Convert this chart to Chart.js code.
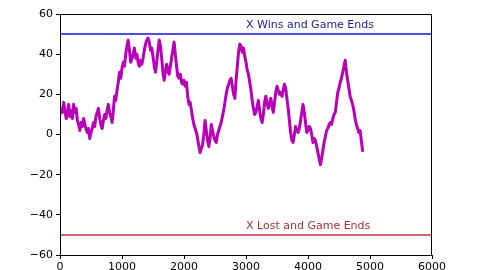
<!DOCTYPE html>
<html>
<head>
<meta charset="utf-8">
<script src="https://cdn.jsdelivr.net/npm/chart.js@4"></script>
<style>
  html, body { margin: 0; padding: 0; background: #fff; overflow: hidden; }
  #wrap { width: 480px; height: 300px; }
</style>
</head>
<body>
<div id="wrap"><canvas id="walkChart" width="480" height="300"></canvas></div>
<script>
// Random walk: step number and position
const steps = [
  0, 20, 40, 60, 80, 100, 120, 140, 160, 180,
  200, 220, 240, 260, 280, 300, 320, 340, 360, 380,
  400, 420, 440, 460, 480, 500, 520, 540, 560, 580,
  600, 620, 640, 660, 680, 700, 720, 740, 760, 780,
  800, 820, 840, 860, 880, 900, 920, 940, 960, 980,
  1000, 1020, 1040, 1060, 1080, 1100, 1120, 1140, 1160, 1180,
  1200, 1220, 1240, 1260, 1280, 1300, 1320, 1340, 1360, 1380,
  1400, 1420, 1440, 1460, 1480, 1500, 1520, 1540, 1560, 1580,
  1600, 1620, 1640, 1660, 1680, 1700, 1720, 1740, 1760, 1780,
  1800, 1820, 1840, 1860, 1880, 1900, 1920, 1940, 1960, 1980,
  2000, 2020, 2040, 2060, 2080, 2100, 2120, 2140, 2160, 2180,
  2200, 2220, 2240, 2260, 2280, 2300, 2320, 2340, 2360, 2380,
  2400, 2420, 2440, 2460, 2480, 2500, 2520, 2540, 2560, 2580,
  2600, 2620, 2640, 2660, 2680, 2700, 2720, 2740, 2760, 2780,
  2800, 2820, 2840, 2860, 2880, 2900, 2920, 2940, 2960, 2980,
  3000, 3020, 3040, 3060, 3080, 3100, 3120, 3140, 3160, 3180,
  3200, 3220, 3240, 3260, 3280, 3300, 3320, 3340, 3360, 3380,
  3400, 3420, 3440, 3460, 3480, 3500, 3520, 3540, 3560, 3580,
  3600, 3620, 3640, 3660, 3680, 3700, 3720, 3740, 3760, 3780,
  3800, 3820, 3840, 3860, 3880, 3900, 3920, 3940, 3960, 3980,
  4000, 4020, 4040, 4060, 4080, 4100, 4120, 4140, 4160, 4180,
  4200, 4220, 4240, 4260, 4280, 4300, 4320, 4340, 4360, 4380,
  4400, 4420, 4440, 4460, 4480, 4500, 4520, 4540, 4560, 4580,
  4600, 4620, 4640, 4660, 4680, 4700, 4720, 4740, 4760, 4780,
  4800, 4820, 4840, 4860, 4880
];
const position = [
  10, 13, 11, 16, 12, 8, 10, 15, 9, 12,
  8, 15, 11, 13, 7, 5, 2, 6, 4, 8,
  5, 3, 1, 3, -2, 1, 3, 6, 4, 9,
  11, 13, 8, 5, 3, 7, 10, 8, 12, 15,
  11, 9, 6, 12, 19, 17, 22, 26, 31, 28,
  33, 36, 34, 40, 44, 47, 42, 36, 38, 40,
  43, 38, 40, 36, 34, 37, 35, 38, 42, 45,
  47, 48, 46, 42, 43, 39, 34, 31, 36, 42,
  47, 44, 38, 31, 27, 31, 35, 32, 30, 34,
  38, 42, 46, 40, 34, 29, 28, 30, 26, 25,
  27, 24, 26, 19, 15, 16, 12, 8, 5, 3,
  1, -2, -6, -9, -7, -5, 0, 7, 2, -3,
  -6, -2, 5, 2, -1, -3, -4, 0, 2, 4,
  6, 9, 12, 16, 20, 23, 25, 27, 28, 24,
  20, 18, 27, 34, 41, 45, 44, 41, 43, 39,
  36, 32, 30, 26, 22, 17, 13, 10, 11, 14,
  17, 12, 8, 6, 10, 16, 19, 15, 13, 16,
  18, 14, 11, 16, 21, 24, 22, 20, 21, 19,
  22, 25, 23, 18, 13, 7, 1, -3, -4, 0,
  4, 2, 1, 3, 7, 11, 15, 11, 6, 1,
  2, 4, 3, 0, -4, -2, -3, -6, -9, -12,
  -15, -12, -8, -4, -1, 2, 3, 5, 6, 5,
  8, 10, 11, 16, 21, 23, 26, 28, 31, 34,
  37, 31, 27, 23, 19, 17, 15, 12, 8, 5,
  3, 1, 2, -3, -8
];

// boundaries and their captions
const limitValues = [50, -50];
const limitColors = ["#1010e0", "#c03040"];
const captionText = ["X Wins and Game Ends", "X Lost and Game Ends"];
const captionX = [3000, 3000];
const captionY = [53, -47];
const captionColors = ["#1a1a90", "#a83038"];

const xTicks = [0, 1000, 2000, 3000, 4000, 5000, 6000];
const yTicks = [-60, -40, -20, 0, 20, 40, 60];

const fontFamily = "'DejaVu Sans', sans-serif";

const walkData = steps.map((s, i) => ({ x: s, y: position[i] }));
const limitSets = limitValues.map((v, i) => ({
  data: [{ x: xTicks[0], y: v }, { x: xTicks[xTicks.length - 1], y: v }],
  borderColor: limitColors[i],
  borderWidth: 1.5,
  pointRadius: 0
}));

// draw the closed box and the text captions
const framePlugin = {
  id: "frame",
  afterDatasetsDraw(chart) {
    const { ctx, chartArea, scales } = chart;
    ctx.save();
    ctx.strokeStyle = "#000";
    ctx.lineWidth = 1;
    ctx.strokeRect(chartArea.left + 0.5, chartArea.top + 0.5,
      chartArea.right - chartArea.left - 1, chartArea.bottom - chartArea.top);
    ctx.font = "11px " + fontFamily;
    ctx.textBaseline = "alphabetic";
    ctx.textAlign = "left";
    captionText.forEach((t, i) => {
      ctx.fillStyle = captionColors[i];
      ctx.fillText(t, scales.x.getPixelForValue(captionX[i]), scales.y.getPixelForValue(captionY[i]));
    });
    ctx.restore();
  }
};

const minus = v => String(v).replace("-", "\u2212");

new Chart(document.getElementById("walkChart").getContext("2d"), {
  type: "line",
  data: {
    datasets: [
      {
        data: walkData,
        borderColor: "#b800b8",
        borderWidth: 3,
        borderJoinStyle: "round",
        borderCapStyle: "round",
        pointRadius: 0,
        tension: 0
      },
      ...limitSets
    ]
  },
  options: {
    responsive: false,
    animation: false,
    layout: { padding: { left: 0, right: 48, top: 14, bottom: 0 } },
    plugins: { legend: { display: false }, tooltip: { enabled: false } },
    scales: {
      x: {
        type: "linear",
        min: 0,
        max: 6000,
        afterBuildTicks: s => { s.ticks = xTicks.map(v => ({ value: v })); },
        afterFit: s => { s.height = 45; },
        border: { color: "#000", width: 1 },
        grid: { drawOnChartArea: false, tickLength: 4, color: "#000" },
        ticks: {
          color: "#000",
          padding: 2,
          maxRotation: 0,
          font: { family: fontFamily, size: 11 },
          callback: v => minus(v)
        }
      },
      y: {
        min: -60,
        max: 60,
        afterBuildTicks: s => { s.ticks = yTicks.map(v => ({ value: v })); },
        afterFit: s => { s.width = 60; },
        border: { color: "#000", width: 1 },
        grid: { drawOnChartArea: false, tickLength: 4, color: "#000" },
        ticks: {
          color: "#000",
          padding: 3,
          font: { family: fontFamily, size: 11 },
          callback: v => minus(v)
        }
      }
    }
  },
  plugins: [framePlugin]
});
</script>
</body>
</html>
